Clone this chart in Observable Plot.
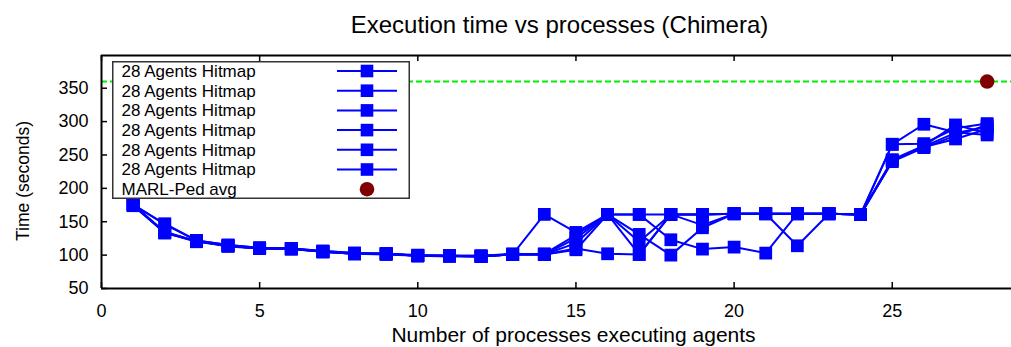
<!DOCTYPE html>
<html><head><meta charset="utf-8">
<script src="https://cdn.jsdelivr.net/npm/d3@7"></script>
<script src="https://cdn.jsdelivr.net/npm/@observablehq/plot@0.6"></script>
<style>
body{margin:0;background:#fff;font-family:"Liberation Sans",Arial,Helvetica,sans-serif;}
#wrap{position:relative;width:1011px;height:347px;overflow:hidden;background:#fff;}
</style></head><body><div id="wrap"></div>
<script>
// ---- data ----
const titleText = "Execution time vs processes (Chimera)";
const xLabelText = "Number of processes executing agents";
const yLabelText = "Time (seconds)";
const processes = [1,2,3,4,5,6,7,8,9,10,11,12,13,14,15,16,17,18,19,20,21,22,23,24,25,26,27,28];
const seriesNames = ["28 Agents Hitmap","28 Agents Hitmap","28 Agents Hitmap","28 Agents Hitmap","28 Agents Hitmap","28 Agents Hitmap"];
const run1 = [175,147,122,115,111,110,106,103,102, 99, 99, 98,101,161,134,161,161,161,161,162,162,162,162,161,266,296,284,280];
const run2 = [176,134,121,114,110,110,105,102,102, 99, 99, 99,101,101,110,102,101,161,161,162,162,114,162,161,266,267,290,297];
const run3 = [175,135,121,114,110,109,105,102,101, 99, 99, 98,101,101,125,161,131,100,141,162,162,162,162,161,242,262,274,289];
const run4 = [176,146,122,115,111,110,106,103,102,100, 99, 99,102,101,118,161,161,123,109,112,103,162,162,161,243,264,295,283];
const run5 = [174,134,120,114,110,110,105,102,102, 99, 98, 98,101,101,108,161,120,161,161,162,162,162,162,161,241,263,283,292];
const run6 = [175,133,121,113,110,109,105,102,102, 99, 99, 98,101,102,130,161,101,161,145,162,162,162,162,161,240,261,279,295];
const runs = [run1, run2, run3, run4, run5, run6];
const marlName = "MARL-Ped avg";
const marlX = [28];
const marlY = [360];
const xTicks = [0,5,10,15,20,25];
const yTicks = [50,100,150,200,250,300,350];
const xDomain = [0, 28.77];
const yDomain = [50, 399];

// ---- layout ----
const W = 1011, H = 347;
const mL = 101, mR = 0, mT = 55, mB = 59;
const blue = "#0000ff";
const FONT = "'Liberation Sans', Arial, Helvetica, sans-serif";
const pxPerY = (H - mT - mB) / (yDomain[1] - yDomain[0]);
const pxPerX = (W - mL - mR) / (xDomain[1] - xDomain[0]);
const tickLen = 6;

const seriesMarks = runs.flatMap((vals, k) => {
  const rows = processes.map((p, i) => ({x: p, y: vals[i]}));
  return [
    Plot.line(rows, {x: "x", y: "y", stroke: blue, strokeWidth: 2}),
    Plot.dot(rows, {x: "x", y: "y", symbol: "square", r: 7.2, fill: blue, stroke: "none"})
  ];
});
const marlRows = marlX.map((x, i) => ({x, y: marlY[i]}));

const plot = Plot.plot({
  width: W, height: H,
  marginLeft: mL, marginRight: mR, marginTop: mT, marginBottom: mB,
  style: {fontFamily: FONT, color: "#000", background: "#fff"},
  x: {domain: xDomain, label: null},
  y: {domain: yDomain, label: null},
  marks: [
    Plot.ruleY(marlY, {stroke: "#00ee00", strokeWidth: 2, strokeDasharray: "6,3"}),
    ...seriesMarks,
    Plot.dot(marlRows, {x: "x", y: "y", r: 7.3, fill: "#7f0000", stroke: "none"}),
    // frame
    Plot.ruleY([yDomain[0], yDomain[1]], {stroke: "#000", strokeWidth: 2}),
    Plot.ruleX([xDomain[0]], {stroke: "#000", strokeWidth: 2}),
    // inward ticks
    Plot.ruleX(xTicks, {x: d => d, y1: yDomain[0], y2: yDomain[0] + tickLen / pxPerY, stroke: "#000", strokeWidth: 1.5}),
    Plot.ruleX(xTicks, {x: d => d, y1: yDomain[1], y2: yDomain[1] - tickLen / pxPerY, stroke: "#000", strokeWidth: 1.5}),
    Plot.ruleY(yTicks, {y: d => d, x1: xDomain[0], x2: xDomain[0] + tickLen / pxPerX, stroke: "#000", strokeWidth: 1.5}),
    // tick labels
    Plot.axisX({ticks: xTicks, tickSize: 0, tickPadding: 16, label: null, fontSize: 18, tickFormat: d => String(d)}),
    Plot.axisY({ticks: yTicks, tickSize: 0, tickPadding: 13, label: null, fontSize: 18, tickFormat: d => String(d)}),
    // labels
    Plot.text([titleText], {frameAnchor: "top", textAnchor: "middle", lineAnchor: "middle", dx: 3, dy: -30, fontSize: 24, fill: "#000"}),
    Plot.text([xLabelText], {frameAnchor: "bottom", textAnchor: "middle", lineAnchor: "middle", dx: 17, dy: 47, fontSize: 21, fill: "#000"}),
    Plot.text([yLabelText], {frameAnchor: "left", textAnchor: "middle", lineAnchor: "middle", rotate: -90, dx: -78, dy: 9, fontSize: 17.5, fill: "#000"})
  ]
});
const wrap = document.getElementById("wrap");
wrap.appendChild(plot);

// ---- legend (inside the plot area, opaque box) ----
const LW = 298, LH = 138, rowH = 19.7, row0 = 10;
const leg = d3.create("svg").attr("id", "legend").attr("width", LW).attr("height", LH)
  .style("position", "absolute").style("left", "112px").style("top", "61px");
leg.append("rect").attr("x", 0.75).attr("y", 0.75).attr("width", LW - 1.5).attr("height", LH - 1.5)
  .attr("fill", "#fff").attr("stroke", "#333").attr("stroke-width", 1.5);
const entries = seriesNames.map(n => ({name: n, kind: "run"})).concat([{name: marlName, kind: "marl"}]);
entries.forEach((e, i) => {
  const cy = row0 + rowH * i;
  leg.append("text").attr("x", 9.5).attr("y", cy).attr("dy", "0.35em")
    .attr("font-family", FONT).attr("font-size", 17).attr("fill", "#000").text(e.name);
  if (e.kind === "run") {
    leg.append("line").attr("x1", 225).attr("x2", 285).attr("y1", cy).attr("y2", cy)
      .attr("stroke", blue).attr("stroke-width", 2);
    leg.append("rect").attr("x", 255 - 6.3).attr("y", cy - 6.3).attr("width", 12.6).attr("height", 12.6).attr("fill", blue);
  } else {
    leg.append("circle").attr("cx", 255).attr("cy", cy).attr("r", 7.3).attr("fill", "#7f0000");
  }
});
wrap.appendChild(leg.node());
</script></body></html>
